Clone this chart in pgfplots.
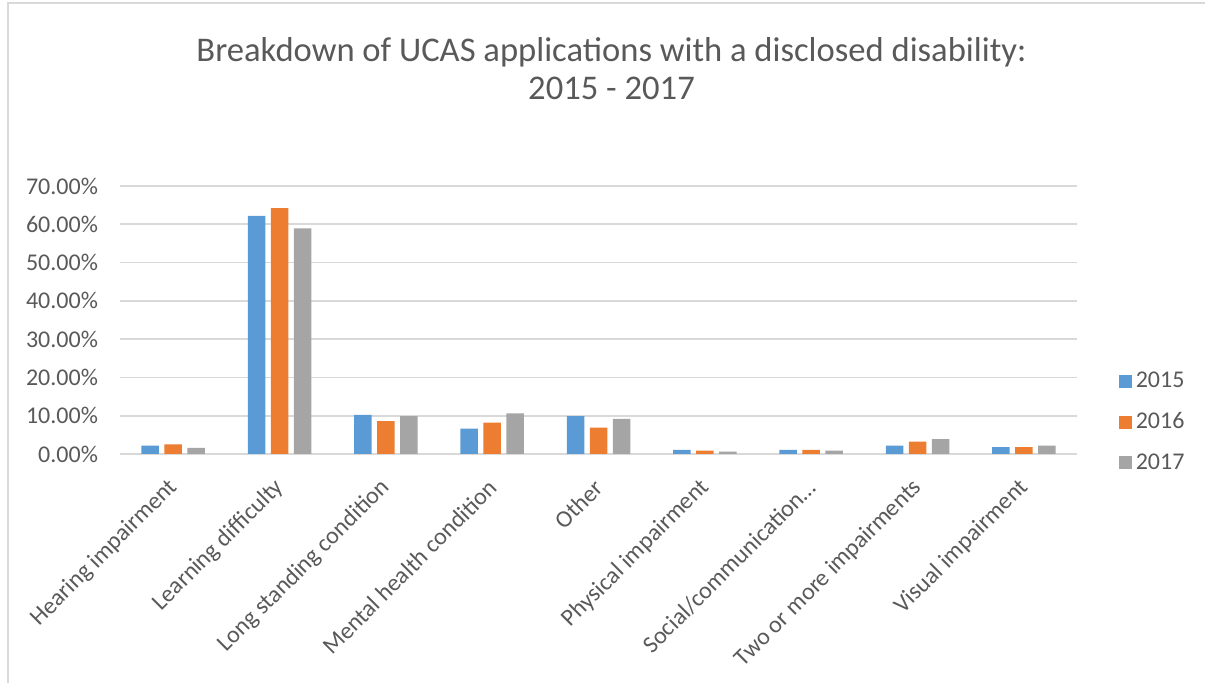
\documentclass[border=0pt]{standalone}
\usepackage{pgfplots}
\pgfplotsset{compat=1.18}
\usepackage{fontspec}
\setmainfont{Carlito}
\definecolor{c15}{HTML}{5B9BD5}
\definecolor{c16}{HTML}{ED7D31}
\definecolor{c17}{HTML}{A5A5A5}
\definecolor{gridc}{HTML}{D9D9D9}
\definecolor{txt}{HTML}{595959}
\pgfplotstableread{
x y15 y16 y17
0 2.2 2.5 1.6
1 62.2 64.2 58.9
2 10.2 8.6 9.9
3 6.6 8.2 10.6
4 9.9 6.9 9.2
5 1.1 0.9 0.6
6 1.1 1.1 0.9
7 2.2 3.2 3.9
8 1.8 1.8 2.2
}\datatable
\begin{document}
\begin{tikzpicture}
\useasboundingbox (0,0) rectangle (602.5pt,341.5pt);
\draw[color=gridc, line width=1pt] (4pt,0) -- (4pt,339.8pt) -- (602.5pt,339.8pt);
\node[text=txt, font=\fontsize{17.3}{19}\selectfont, align=center] at (305.75pt,307pt)
  {Breakdown of UCAS applications with a disclosed disability:\\2015 - 2017};
\begin{axis}[
  at={(60pt,114.5pt)}, anchor=south west,
  width=478.5pt, height=134pt, scale only axis,
  ybar=2.75pt, bar width=8.75pt,
  xmin=-0.5, xmax=8.5, ymin=0, ymax=70,
  xtick=data,
  xticklabels={Hearing impairment,Learning difficulty,Long standing condition,Mental health condition,Other,Physical impairment,Social/communication…,Two or more impairments,Visual impairment},
  ytick={0,10,...,70},
  yticklabel={\pgfmathprintnumber[fixed,fixed zerofill,precision=2]{\tick}\%},
  /pgf/number format/assume math mode=true,
  major tick length=0pt,
  axis line style={draw=none},
  ymajorgrids, grid style={gridc, line width=0.8pt},
  tick label style={text=txt, font=\fontsize{12}{14}\selectfont},
  yticklabel style={anchor=east, xshift=-7.5pt},
  xticklabel style={xshift=2.75pt, yshift=-12.5pt, rotate=45, anchor=east},
  legend style={at={(1.037,0.119)}, anchor=west, draw=none, fill=none,
    font=\fontsize{12}{14}\selectfont, text=txt, row sep=7pt,
    legend cell align=left},
  legend image code/.code={\fill[#1,draw=none] (0pt,-3.25pt) rectangle (6.5pt,3.25pt);},
]
\addplot[fill=c15, draw=none] table[x=x,y=y15]{\datatable};
\addplot[fill=c16, draw=none] table[x=x,y=y16]{\datatable};
\addplot[fill=c17, draw=none] table[x=x,y=y17]{\datatable};
\legend{2015,2016,2017}
\end{axis}
\end{tikzpicture}
\end{document}
